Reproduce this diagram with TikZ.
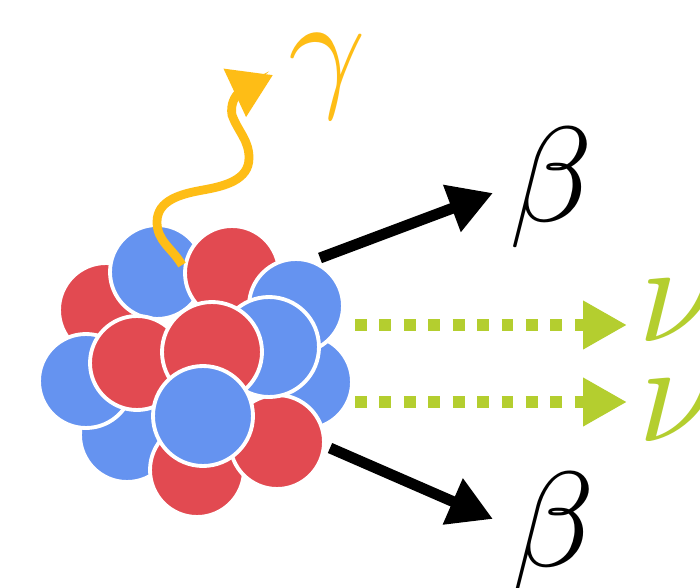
\documentclass[tikz,border=0pt]{standalone}
\usepackage{amsmath}
\usepackage{tikz}
\usetikzlibrary{arrows.meta}
\definecolor{pred}{HTML}{E24A51}
\definecolor{nblue}{HTML}{6593F0}
\definecolor{gold}{HTML}{FEBD16}
\definecolor{lime}{HTML}{B4CE2F}

\begin{document}
\begin{tikzpicture}[x=0.02cm, y=-0.02cm,
    ball/.style={circle, draw=white, line width=2.2pt, inner sep=0pt, minimum size=1.88cm},
    proton/.style={ball, fill=pred},
    neutron/.style={ball, fill=nblue},
    big/.style={minimum size=2cm},
    ray/.style={line width=6.2pt, -{Triangle[length=25pt,width=27pt]}},
    nu/.style={lime, line width=6.8pt, dash pattern=on 6.8pt off 7.1pt,
               -{Triangle[length=25pt,width=26pt]}},
    photon/.style={gold, line width=5pt, -{Triangle[length=24pt,width=29pt]}},
    lbl/.style={inner sep=0pt, scale=7.7}]
    \path[use as bounding box, fill=white] (0,0) rectangle (700,588);

    % nucleus, back to front
    \node[proton]  (c1)  at (106,310) {};
    \node[neutron] (c2)  at (305,382) {};
    \node[neutron] (c3)  at (127,435) {};
    \node[proton]  (c4)  at (197,470) {};
    \node[neutron] (c5)  at (86,381)  {};
    \node[neutron] (c6)  at (157,272) {};
    \node[proton]  (c7)  at (232,273) {};
    \node[neutron] (c8)  at (296,306) {};
    \node[proton]  (c9)  at (277,442) {};
    \node[proton]  (c10) at (137,363) {};
    \node[neutron,big] (c11) at (269,347) {};
    \node[proton,big]  (c12) at (212,352) {};
    \node[neutron,big] (c13) at (203,416) {};

    \node[lbl, gold] (gam) at (327,77)  {$\gamma$};
    \node[lbl] (b1) at (551,188) {$\beta$};
    \node[lbl] (b2) at (553,533) {$\beta$};
    \node[lbl, lime, scale=1.06] (nu1) at (678,311) {$\nu$};
    \node[lbl, lime, scale=1.06] (nu2) at (678,411) {$\nu$};

    \coordinate (gs)  at (182,265);
    \coordinate (ge)  at (273,75);
    \coordinate (b1s) at (320,258);
    \coordinate (b1e) at (493,193);
    \coordinate (b2s) at (330,448);
    \coordinate (b2e) at (493,519);
    \coordinate (n1s) at (355,325);
    \coordinate (n1e) at (627,325);
    \coordinate (n2s) at (355,402);
    \coordinate (n2e) at (627,402);

    \draw[photon] (gs) to[out=120,in=-90] (157,222)
                       to[out=90,in=190] (203,190)
                       to[out=10,in=-90] (249,158)
                       to[out=90,in=-70] (232,115)
                       to[out=100,in=205] (ge);
    \draw[ray] (b1s) -- (b1e);
    \draw[ray] (b2s) -- (b2e);
    \draw[nu] (n1s) -- (n1e);
    \draw[nu] (n2s) -- (n2e);
\end{tikzpicture}
\end{document}
